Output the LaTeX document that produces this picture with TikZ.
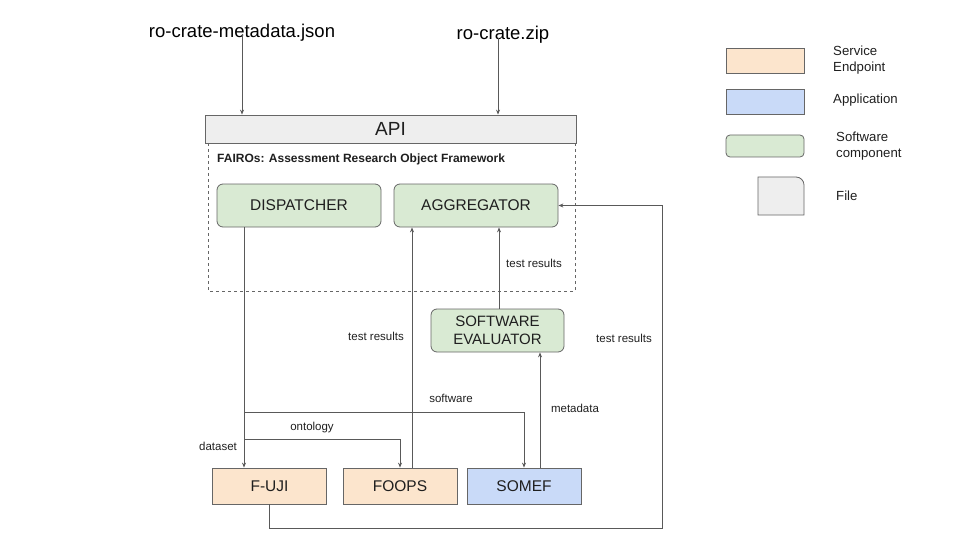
\documentclass[tikz,border=0pt]{standalone}
\usepackage{fontspec}
\setmainfont{Liberation Sans}
\usetikzlibrary{arrows.meta}
\definecolor{lnc}{HTML}{595959}
\definecolor{bdc}{HTML}{666666}
\definecolor{orng}{HTML}{FCE5CD}
\definecolor{blu}{HTML}{C9DAF8}
\definecolor{grn}{HTML}{D9EAD3}
\definecolor{gry}{HTML}{EEEEEE}
\definecolor{txc}{HTML}{1F1F1F}
\tikzset{
  boxbase/.style={draw=bdc, line width=0.8pt, inner sep=0pt, text=txc, align=center, font=\fontsize{15.5}{18.5}\selectfont},
  svc/.style={boxbase, fill=orng, minimum width=114pt, minimum height=36pt},
  app/.style={boxbase, fill=blu, minimum width=114pt, minimum height=36pt},
  comp/.style={boxbase, fill=grn, rounded corners=6pt},
  arr/.style={draw=lnc, line width=0.8pt, -{Stealth[length=5pt,width=4pt]}},
  ln/.style={draw=lnc, line width=0.8pt},
  lbl/.style={font=\fontsize{11.5}{13}\selectfont, text=txc, inner sep=0pt},
  legtxt/.style={font=\fontsize{13.2}{16.5}\selectfont, text=txc, inner sep=0pt, align=left, anchor=west},
}
\begin{document}
\begin{tikzpicture}[x=1pt,y=-1pt]
\useasboundingbox (0,0) rectangle (960,540);
% inputs
\node[font=\fontsize{18.5}{22}\selectfont, text=black, inner sep=0pt] (json) at (242,33) {ro-crate-metadata.json};
\node[font=\fontsize{18.5}{22}\selectfont, text=black, inner sep=0pt] (zip) at (503,35) {ro-crate.zip};
% API
\node[boxbase, fill=gry, minimum width=371pt, minimum height=28pt, font=\fontsize{19}{22}\selectfont] (api) at (390.5,129) {API};
% framework frame
\draw[draw=bdc, line width=0.8pt, dashed] (208,143) -- (208,291) -- (575,291) -- (575,143);
\node[lbl, anchor=west, font=\bfseries\fontsize{12}{14}\selectfont] (fw) at (217,159) {FAIROs: Assessment Research Object Framework};
% components
\node[comp, minimum width=164pt, minimum height=43pt] (disp) at (299,205.5) {DISPATCHER};
\node[comp, minimum width=164pt, minimum height=43pt] (agg) at (476,205.5) {AGGREGATOR};
\node[comp, minimum width=133pt, minimum height=43pt, font=\fontsize{15}{18}\selectfont] (se) at (497.5,330.5) {SOFTWARE\\EVALUATOR};
% services
\node[svc] (fuji) at (269.5,486) {F-UJI};
\node[svc] (foops) at (400,486) {FOOPS};
\node[app] (somef) at (524,486) {SOMEF};
% input arrows
\draw[arr] ([yshift=8pt]json.south) -- (json.south |- api.north);
\draw[arr] ([xshift=-5pt,yshift=6pt]zip.south) -- ([xshift=-5pt]zip.south |- api.north);
% dispatcher
\coordinate (d0) at (244,227);
\coordinate (b1) at (244,412);
\coordinate (b2) at (244,439);
\draw[arr] (d0) -- (d0 |- fuji.north);
\draw[arr] (b1) -| (somef.north);
\draw[arr] (b2) -| (foops.north);
% results
\draw[arr] ([xshift=12pt]foops.north) -- ([xshift=12pt]foops.north |- agg.south);
\draw[arr] ([xshift=1.5pt]se.north) -- ([xshift=1.5pt]se.north |- agg.south);
\draw[arr] ([xshift=16pt]somef.north) -- ([xshift=16pt]somef.north |- se.south);
\coordinate (lp) at (662,528);
\draw[arr] (fuji.south) |- (lp) |- (agg.east);
% labels
\node[lbl] (l1) at (376,336) {test results};
\node[lbl] (l2) at (534,263) {test results};
\node[lbl] (l3) at (624,338) {test results};
\node[lbl] (l4) at (451,398) {software};
\node[lbl] (l5) at (312,428) {ontology};
\node[lbl] (l6) at (218,446) {dataset};
\node[lbl] (l7) at (575,408) {metadata};
% legend
\node[boxbase, fill=orng, minimum width=78pt, minimum height=25pt] (lg1) at (765,60.5) {};
\node[boxbase, fill=blu, minimum width=78pt, minimum height=25pt] (lg2) at (765,101.5) {};
\node[comp, minimum width=78pt, minimum height=22pt, rounded corners=4pt] (lg3) at (765,146) {};
\draw[draw=bdc, line width=0.8pt, fill=gry] (758,215) -- (758,177) [rounded corners=8pt] -- (804,177) [sharp corners] -- (804,215) -- cycle;
\node[legtxt] (t1) at (833,60) {Service\\Endpoint};
\node[legtxt] (t2) at (833,100) {Application};
\node[legtxt] (t3) at (836,146) {Software\\component};
\node[legtxt] (t4) at (836,196) {File};
\end{tikzpicture}
\end{document}
